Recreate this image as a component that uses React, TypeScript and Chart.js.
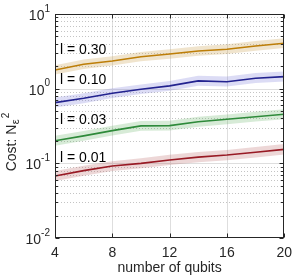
import React, { useEffect, useRef } from 'react';
import { Chart, registerables } from 'chart.js';

Chart.register(...registerables);

const qubits = [4, 6, 8, 10, 12, 14, 16, 18, 20];

const cost030 = [1.78, 2.12, 2.35, 2.68, 2.91, 3.2, 3.37, 3.73, 4.06];
const cost030Upper = [2.06, 2.45, 2.72, 3.1, 3.37, 3.7, 3.92, 4.35, 4.75];
const cost030Lower = [1.55, 1.84, 2.04, 2.33, 2.52, 2.77, 2.92, 3.22, 3.5];

const cost010 = [0.65, 0.743, 0.867, 0.98, 1.09, 1.27, 1.24, 1.38, 1.45];
const cost010Upper = [0.76, 0.87, 1.01, 1.14, 1.27, 1.49, 1.45, 1.62, 1.7];
const cost010Lower = [0.56, 0.64, 0.75, 0.85, 0.94, 1.09, 1.07, 1.19, 1.25];

const cost003 = [0.201, 0.233, 0.274, 0.317, 0.32, 0.361, 0.389, 0.42, 0.454];
const cost003Upper = [0.235, 0.27, 0.318, 0.368, 0.372, 0.42, 0.452, 0.49, 0.53];
const cost003Lower = [0.172, 0.2, 0.236, 0.273, 0.276, 0.31, 0.335, 0.362, 0.39];

const cost001 = [0.0677, 0.0798, 0.0923, 0.1, 0.111, 0.121, 0.129, 0.141, 0.154];
const cost001Upper = [0.079, 0.093, 0.107, 0.117, 0.13, 0.142, 0.151, 0.166, 0.181];
const cost001Lower = [0.058, 0.068, 0.079, 0.086, 0.095, 0.103, 0.11, 0.12, 0.131];

const seriesLabels = ['l = 0.30', 'l = 0.10', 'l = 0.03', 'l = 0.01'];
const labelAnchorY = [3.3, 1.3, 0.38, 0.118];
const labelAnchorX = 4.35;

const xTickValues = [4, 8, 12, 16, 20];
const yDecadeExps = [-2, -1, 0, 1];

const lineColors = ['#bd7e08', '#22228f', '#2e8a3a', '#981a24'];
const bandColors = [
  'rgba(205,165,90,0.30)',
  'rgba(115,115,215,0.25)',
  'rgba(95,175,95,0.25)',
  'rgba(185,95,95,0.25)',
];

const seriesMain = [cost030, cost010, cost003, cost001];
const seriesUpper = [cost030Upper, cost010Upper, cost003Upper, cost001Upper];
const seriesLower = [cost030Lower, cost010Lower, cost003Lower, cost001Lower];

const FONT = '"Liberation Sans", Arial, Helvetica, sans-serif';
const TEXT = '#262626';

const toPts = (arr: number[]) => qubits.map((q, i) => ({ x: q, y: arr[i] }));

const decorPlugin = {
  id: 'decor',
  beforeDatasetsDraw(chart: any) {
    const { ctx, chartArea: a, scales } = chart;
    const x = scales.x;
    const y = scales.y;
    ctx.save();
    ctx.lineWidth = 1;
    ctx.strokeStyle = '#dedede';
    ctx.setLineDash([]);
    xTickValues.forEach((v) => {
      const px = Math.round(x.getPixelForValue(v)) + 0.5;
      if (px <= a.left + 1 || px >= a.right - 1) return;
      ctx.beginPath();
      ctx.moveTo(px, a.top);
      ctx.lineTo(px, a.bottom);
      ctx.stroke();
    });
    yDecadeExps.forEach((e) => {
      for (let m = 1; m <= 9; m++) {
        const v = m * Math.pow(10, e);
        const py = Math.round(y.getPixelForValue(v)) + 0.5;
        if (py <= a.top + 1 || py >= a.bottom - 1) continue;
        if (m === 1) {
          ctx.strokeStyle = '#dedede';
          ctx.setLineDash([]);
        } else {
          ctx.strokeStyle = '#c4c4c4';
          ctx.setLineDash([1, 2]);
        }
        ctx.beginPath();
        ctx.moveTo(a.left, py);
        ctx.lineTo(a.right, py);
        ctx.stroke();
      }
    });
    ctx.restore();
  },
  afterDatasetsDraw(chart: any) {
    const { ctx, scales } = chart;
    ctx.save();
    ctx.fillStyle = '#000';
    ctx.font = `14px ${FONT}`;
    ctx.textAlign = 'left';
    ctx.textBaseline = 'middle';
    seriesLabels.forEach((t, i) => {
      ctx.fillText(t, scales.x.getPixelForValue(labelAnchorX), scales.y.getPixelForValue(labelAnchorY[i]));
    });
    ctx.restore();
  },
  afterDraw(chart: any) {
    const { ctx, chartArea: a, scales } = chart;
    const x = scales.x;
    const y = scales.y;
    ctx.save();
    ctx.strokeStyle = TEXT;
    ctx.lineWidth = 1;
    ctx.setLineDash([]);
    const L = Math.round(a.left) + 0.5;
    const R = Math.round(a.right) - 0.5;
    const T = Math.round(a.top) + 0.5;
    const B = Math.round(a.bottom) - 0.5;
    ctx.strokeRect(L, T, R - L, B - T);
    ctx.beginPath();
    xTickValues.forEach((v) => {
      const px = Math.round(x.getPixelForValue(v)) + 0.5;
      ctx.moveTo(px, B);
      ctx.lineTo(px, B - 4);
      ctx.moveTo(px, T);
      ctx.lineTo(px, T + 4);
    });
    yDecadeExps.forEach((e) => {
      for (let m = 1; m <= 9; m++) {
        const v = m * Math.pow(10, e);
        if (v > 10) continue;
        const py = Math.round(y.getPixelForValue(v)) + 0.5;
        const len = m === 1 ? 4 : 2.5;
        ctx.moveTo(L, py);
        ctx.lineTo(L + len, py);
        ctx.moveTo(R, py);
        ctx.lineTo(R - len, py);
      }
    });
    ctx.stroke();

    ctx.fillStyle = TEXT;
    ctx.textBaseline = 'middle';
    yDecadeExps.forEach((e) => {
      const py = y.getPixelForValue(Math.pow(10, e));
      const expStr = e < 0 ? '-' + Math.abs(e) : String(e);
      ctx.font = `10px ${FONT}`;
      const ew = ctx.measureText(expStr).width;
      const right = a.left - 5;
      ctx.textAlign = 'left';
      ctx.fillText(expStr, right - ew, py - 5);
      ctx.font = `14px ${FONT}`;
      ctx.textAlign = 'right';
      ctx.fillText('10', right - ew, py + 2);
    });

    ctx.translate(12, (a.top + a.bottom) / 2 + 16);
    ctx.rotate(-Math.PI / 2);
    const parts = [
      { t: 'Cost: N', size: 14, dy: 0, gap: 0 },
      { t: '\u03b5', size: 11, dy: 4, gap: 0.5 },
      { t: '2', size: 10, dy: -6, gap: 1 },
    ];
    let total = 0;
    parts.forEach((p) => {
      ctx.font = `${p.size}px ${FONT}`;
      total += ctx.measureText(p.t).width + p.gap;
    });
    let cx = -total / 2;
    ctx.textAlign = 'left';
    parts.forEach((p) => {
      ctx.font = `${p.size}px ${FONT}`;
      cx += p.gap;
      ctx.fillText(p.t, cx, p.dy);
      cx += ctx.measureText(p.t).width;
    });
    ctx.restore();
  },
};

export default function App() {
  const canvasRef = useRef<HTMLCanvasElement | null>(null);

  useEffect(() => {
    const canvas = canvasRef.current;
    if (!canvas) return;
    const lines = seriesMain.map((arr, i) => ({
      label: seriesLabels[i],
      data: toPts(arr),
      borderColor: lineColors[i],
      borderWidth: 1.6,
      pointRadius: 0,
      fill: false,
      tension: 0,
    }));
    const bands: any[] = [];
    seriesMain.forEach((_, i) => {
      bands.push({
        label: seriesLabels[i] + ' upper',
        data: toPts(seriesUpper[i]),
        borderWidth: 0,
        borderColor: 'rgba(0,0,0,0)',
        backgroundColor: bandColors[i],
        pointRadius: 0,
        fill: '+1',
        tension: 0,
      });
      bands.push({
        label: seriesLabels[i] + ' lower',
        data: toPts(seriesLower[i]),
        borderWidth: 0,
        borderColor: 'rgba(0,0,0,0)',
        backgroundColor: bandColors[i],
        pointRadius: 0,
        fill: false,
        tension: 0,
      });
    });

    const chart = new Chart(canvas, {
      type: 'line',
      data: { datasets: [...lines, ...bands] as any },
      options: {
        animation: false,
        responsive: false,
        devicePixelRatio: 1,
        layout: { padding: { top: 14, right: 13, bottom: 0, left: 0 } },
        plugins: {
          legend: { display: false },
          tooltip: { enabled: false },
        },
        scales: {
          x: {
            type: 'linear',
            min: 4,
            max: 20,
            grid: { display: false, drawTicks: false },
            border: { display: false },
            afterBuildTicks: (s: any) => {
              s.ticks = xTickValues.map((v) => ({ value: v }));
            },
            afterFit: (s: any) => {
              s.height = 37;
            },
            ticks: {
              color: TEXT,
              font: { family: FONT, size: 14 },
              padding: 7,
              maxRotation: 0,
              autoSkip: false,
            },
            title: {
              display: true,
              text: 'number of qubits',
              color: TEXT,
              font: { family: FONT, size: 14 },
              padding: { top: 0, bottom: -2 },
            },
          },
          y: {
            type: 'logarithmic',
            min: 0.01,
            max: 10,
            grid: { display: false, drawTicks: false },
            border: { display: false },
            ticks: { display: false },
            afterFit: (s: any) => {
              s.width = 55;
            },
          },
        },
      },
      plugins: [decorPlugin],
    });
    return () => chart.destroy();
  }, []);

  return (
    <div style={{ position: 'fixed', left: 0, top: 0, width: 299, height: 275, background: '#fff' }}>
      <canvas ref={canvasRef} width={299} height={275} />
    </div>
  );
}
